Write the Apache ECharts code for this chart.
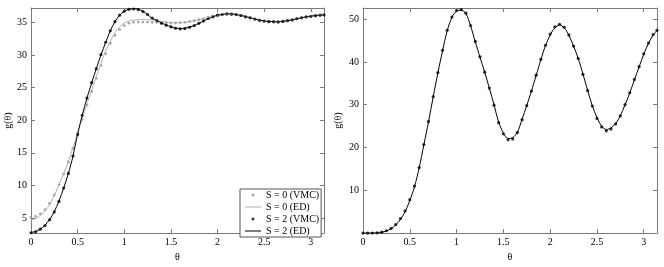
<!DOCTYPE html>
<html>
<head>
<meta charset="utf-8">
<script src="https://cdn.jsdelivr.net/npm/echarts@6/dist/echarts.min.js"></script>
<style>html,body{margin:0;padding:0;background:#fff;}#c{width:664px;height:267px;}</style>
</head>
<body>
<div id="c"></div>
<script>
const theta = [0,0.05,0.10,0.15,0.20,0.25,0.30,0.35,0.40,0.45,0.50,0.55,0.60,0.65,0.70,0.75,0.80,0.85,0.90,0.95,1.00,1.05,1.10,1.15,1.20,1.25,1.30,1.35,1.40,1.45,1.50,1.55,1.60,1.65,1.70,1.75,1.80,1.85,1.90,1.95,2.00,2.05,2.10,2.15,2.20,2.25,2.30,2.35,2.40,2.45,2.50,2.55,2.60,2.65,2.70,2.75,2.80,2.85,2.90,2.95,3.00,3.05,3.10,3.1416];

const s0VMC = [5.10,5.25,5.65,6.30,7.25,8.55,10.10,11.75,13.60,15.70,17.90,20.10,22.30,24.40,26.40,28.40,30.20,31.80,33.00,33.90,34.50,34.85,35.00,35.05,35.05,35.05,35.00,35.00,34.95,34.90,34.90,34.90,34.95,35.00,35.10,35.25,35.40,35.55,35.75,35.90,36.05,36.15,36.20,36.20,36.15,36.00,35.85,35.70,35.50,35.35,35.20,35.10,35.05,35.10,35.15,35.25,35.40,35.55,35.70,35.80,35.95,36.05,36.10,36.15];
const s0ED = [4.70,4.90,5.40,6.10,7.10,8.50,10.10,11.80,13.70,15.80,18.00,20.30,22.50,24.60,26.70,28.70,30.60,32.10,33.40,34.30,34.90,35.20,35.35,35.40,35.45,35.40,35.35,35.25,35.15,35.05,35.00,34.95,34.95,35.00,35.10,35.25,35.40,35.55,35.75,35.90,36.05,36.15,36.25,36.25,36.20,36.05,35.90,35.70,35.50,35.35,35.20,35.15,35.10,35.10,35.15,35.25,35.40,35.55,35.70,35.85,35.95,36.05,36.10,36.10];
const s2VMC = [2.75,2.90,3.30,3.85,4.75,5.95,7.55,9.60,11.85,14.50,17.80,20.75,23.40,25.75,27.90,30.05,31.95,33.70,35.10,36.10,36.70,37.00,37.05,36.95,36.65,36.20,35.65,35.25,34.85,34.55,34.30,34.10,34.00,34.05,34.25,34.50,34.85,35.20,35.60,35.85,36.10,36.20,36.30,36.25,36.20,36.05,35.85,35.70,35.50,35.30,35.20,35.10,35.10,35.05,35.15,35.25,35.35,35.55,35.70,35.85,35.90,36.00,36.10,36.15];
const s2ED = [2.80,2.95,3.30,3.90,4.80,6.00,7.60,9.60,11.80,14.50,17.90,20.80,23.40,25.70,27.90,30.00,31.90,33.70,35.10,36.10,36.70,37.00,37.10,37.00,36.70,36.20,35.60,35.30,34.90,34.60,34.35,34.15,34.05,34.10,34.30,34.50,34.85,35.20,35.55,35.85,36.10,36.20,36.30,36.30,36.20,36.05,35.90,35.70,35.50,35.35,35.20,35.15,35.10,35.10,35.15,35.25,35.40,35.55,35.70,35.85,35.95,36.05,36.10,36.10];

const rVMC = [0.00,0.00,0.02,0.07,0.22,0.55,1.10,2.00,3.40,5.20,7.80,11.00,15.30,20.70,26.10,31.90,37.50,42.70,47.40,50.50,52.00,52.20,51.40,48.50,44.80,41.20,37.60,33.90,29.90,25.80,23.20,21.80,22.00,23.50,26.50,29.80,33.20,36.90,40.60,43.90,46.50,48.20,48.80,48.10,46.30,43.70,40.80,37.10,33.30,29.70,26.80,24.80,23.90,24.30,25.50,27.40,30.00,32.80,35.90,38.90,41.90,44.40,46.40,47.40];
const rED = [0.00,0.00,0.02,0.06,0.20,0.50,1.00,1.90,3.20,5.00,7.60,10.80,15.20,20.60,26.00,31.80,37.40,42.60,47.30,50.40,51.90,52.10,51.30,48.40,44.70,41.10,37.60,33.90,30.00,25.90,23.40,22.10,22.30,23.60,26.60,29.80,33.20,36.80,40.50,43.80,46.30,48.00,48.60,48.00,46.20,43.70,40.80,37.20,33.40,29.80,27.00,25.00,24.20,24.60,25.60,27.40,30.00,32.70,35.80,38.80,41.80,44.30,46.30,47.30];

const xTicks = [0,0.5,1,1.5,2,2.5,3];
const leftYTicks = [5,10,15,20,25,30,35];
const rightYTicks = [10,20,30,40,50];
const legendNames = ['S = 0 (VMC)','S = 0 (ED)','S = 2 (VMC)','S = 2 (ED)'];

const pairs = (ys) => theta.map((t, i) => [t, ys[i]]);
const onlyTicks = (list) => (v) => list.some(t => Math.abs(t - v) < 1e-6) ? String(v) : '';

const FONT = 'Liberation Serif';
const AX = '#7a7a7a';
const txt = { fontFamily: FONT, fontSize: 10, color: '#000' };
const LINE_ICON = 'path://M0,0L16,0L16,1L0,1Z';

function xAx(gi, ticks, primary) {
  return {
    type: 'value', gridIndex: gi, min: 0, max: 3.1416,
    position: primary ? 'bottom' : 'top',
    name: primary ? 'θ' : '', nameLocation: 'middle', nameGap: 12,
    nameTextStyle: txt,
    axisLine: { show: true, onZero: false, lineStyle: { color: AX, width: 1 } },
    axisTick: { show: true, inside: true, length: 4, lineStyle: { color: AX } },
    axisLabel: primary ? Object.assign({ margin: 4, formatter: onlyTicks(ticks), showMaxLabel: true }, txt) : { show: false },
    splitLine: { show: false }
  };
}
function yAx(gi, min, max, ticks, primary, gap) {
  return {
    type: 'value', gridIndex: gi, min: min, max: max,
    position: primary ? 'left' : 'right',
    name: primary ? 'g(θ)' : '', nameLocation: 'middle', nameGap: gap, nameRotate: 90,
    nameTextStyle: txt,
    axisLine: { show: true, onZero: false, lineStyle: { color: AX, width: 1 } },
    axisTick: { show: true, inside: true, length: 4, lineStyle: { color: AX } },
    axisLabel: primary ? Object.assign({ margin: 4, formatter: onlyTicks(ticks), showMinLabel: false, showMaxLabel: false }, txt) : { show: false },
    splitLine: { show: false }
  };
}

const chart = echarts.init(document.getElementById('c'), null, { renderer: 'canvas' });
chart.setOption({
  animation: false,
  backgroundColor: '#fff',
  grid: [
    { left: 31, right: 340, top: 8, bottom: 28, containLabel: false },
    { left: 363, right: 7, top: 8, bottom: 28, containLabel: false }
  ],
  xAxis: [xAx(0, xTicks, true), xAx(0, xTicks, false), xAx(1, xTicks, true), xAx(1, xTicks, false)],
  yAxis: [yAx(0, 2.7, 37.2, leftYTicks, true, 17), yAx(0, 2.7, 37.2, leftYTicks, false, 0),
          yAx(1, 0, 52.6, rightYTicks, true, 20), yAx(1, 0, 52.6, rightYTicks, false, 0)],
  legend: {
    left: 240, top: 189, orient: 'vertical',
    itemGap: 0, itemWidth: 16, itemHeight: 3,
    padding: [0, 2, 0, 5],
    backgroundColor: '#fff', borderColor: '#555', borderWidth: 1,
    textStyle: { fontFamily: FONT, fontSize: 10, color: '#000', lineHeight: 12, padding: [0,0,0,0] },
    data: [
      { name: legendNames[0], icon: 'circle' },
      { name: legendNames[1], icon: LINE_ICON },
      { name: legendNames[2], icon: 'circle' },
      { name: legendNames[3], icon: LINE_ICON }
    ],
    z: 10
  },
  series: [
    { name: legendNames[0], type: 'scatter', xAxisIndex: 0, yAxisIndex: 0, data: pairs(s0VMC),
      symbol: 'circle', symbolSize: 2.8, itemStyle: { color: '#8f8f8f' } },
    { name: legendNames[1], type: 'line', xAxisIndex: 0, yAxisIndex: 0, data: pairs(s0ED),
      symbol: 'none', smooth: 0.3, lineStyle: { color: '#b0b0b0', width: 1 }, itemStyle: { color: '#b0b0b0' } },
    { name: legendNames[2], type: 'scatter', xAxisIndex: 0, yAxisIndex: 0, data: pairs(s2VMC),
      symbol: 'circle', symbolSize: 3.2, itemStyle: { color: '#000' } },
    { name: legendNames[3], type: 'line', xAxisIndex: 0, yAxisIndex: 0, data: pairs(s2ED),
      symbol: 'none', smooth: 0.3, lineStyle: { color: '#000', width: 1 }, itemStyle: { color: '#000' } },
    { name: 'right VMC', type: 'scatter', xAxisIndex: 2, yAxisIndex: 2, data: pairs(rVMC),
      symbol: 'circle', symbolSize: 3.2, itemStyle: { color: '#000' } },
    { name: 'right ED', type: 'line', xAxisIndex: 2, yAxisIndex: 2, data: pairs(rED),
      symbol: 'none', smooth: 0.3, lineStyle: { color: '#000', width: 1 }, itemStyle: { color: '#000' } }
  ]
});
</script>
</body>
</html>
